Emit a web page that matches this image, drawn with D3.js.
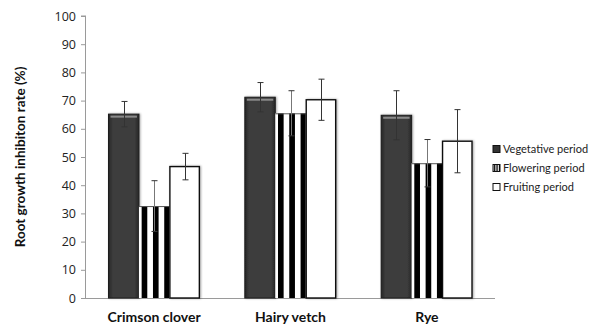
<!DOCTYPE html>
<html>
<head>
<meta charset="utf-8">
<script src="https://cdn.jsdelivr.net/npm/d3@7"></script>
<style>
  body { margin: 0; background: #fff; }
  svg { display: block; font-family: Lato, "Open Sans", sans-serif; }
</style>
</head>
<body>
<svg id="chart" width="595" height="329"></svg>
<script>
// ---------- data ----------
var crops = ["Crimson clover", "Hairy vetch", "Rye"];
var periods = ["Vegetative period", "Flowering period", "Fruiting period"];
var vegetative = [65.2, 71.2, 64.8];
var flowering = [32.6, 65.5, 47.8];
var fruiting = [46.6, 70.3, 55.6];
var vegetativeErr = [4.5, 5.2, 8.7];
var floweringErr = [9.0, 8.0, 8.4];
var fruitingErr = [4.7, 7.3, 11.2];
var yTicks = [0, 10, 20, 30, 40, 50, 60, 70, 80, 90, 100];

var seriesVals = [vegetative, flowering, fruiting];
var seriesErr = [vegetativeErr, floweringErr, fruitingErr];

var svg = d3.select("#chart");
var margin = {left: 86, right: 100, top: 16, bottom: 31};
var W = 595, H = 329;

var x0 = d3.scaleBand()
  .domain(crops)
  .range([margin.left, W - margin.right])
  .paddingInner(0.33)
  .paddingOuter(0.165);
var x1 = d3.scaleBand()
  .domain(periods)
  .range([0, x0.bandwidth()]);
var y = d3.scaleLinear()
  .domain([0, 100])
  .range([H - margin.bottom, margin.top]);

// ---------- defs ----------
var defs = svg.append("defs");
var grad = defs.append("linearGradient").attr("id", "vegGrad")
  .attr("x1", 0).attr("x2", 1).attr("y1", 0).attr("y2", 0);
grad.append("stop").attr("offset", "0%").attr("stop-color", "#262626");
grad.append("stop").attr("offset", "15%").attr("stop-color", "#3e3e3e");
grad.append("stop").attr("offset", "85%").attr("stop-color", "#3e3e3e");
grad.append("stop").attr("offset", "100%").attr("stop-color", "#262626");

var shadow = defs.append("filter").attr("id", "shadow")
  .attr("x", "-20%").attr("y", "-5%").attr("width", "140%").attr("height", "110%");
shadow.append("feDropShadow").attr("dx", 1).attr("dy", 0).attr("stdDeviation", 0.8)
  .attr("flood-color", "#000").attr("flood-opacity", 0.35);

var stripeW = 11.3;
crops.forEach(function (c, i) {
  var bx = x0(c) + x1(periods[1]);
  var p = defs.append("pattern").attr("id", "stripe" + i)
    .attr("patternUnits", "userSpaceOnUse")
    .attr("width", stripeW).attr("height", 10)
    .attr("x", bx + 2.7);
  p.append("rect").attr("width", stripeW).attr("height", 10).attr("fill", "#fff");
  p.append("rect").attr("width", stripeW / 2).attr("height", 10).attr("fill", "#000");
});
// legend stripe
var lp = defs.append("pattern").attr("id", "stripeLegend")
  .attr("patternUnits", "userSpaceOnUse").attr("width", 2.6).attr("height", 10).attr("x", 493);
lp.append("rect").attr("width", 2.6).attr("height", 10).attr("fill", "#fff");
lp.append("rect").attr("x", 0.8).attr("width", 1.4).attr("height", 10).attr("fill", "#000");

// ---------- axes ----------
var yAxis = d3.axisLeft(y).tickValues(yTicks).tickSize(5).tickPadding(5);
var gy = svg.append("g").attr("transform", "translate(" + margin.left + ",0)").call(yAxis);
gy.select(".domain").attr("stroke", "#9a9a9a").attr("d", "M-0.5," + y(0) + "V" + y(100) + "M-5," + y(100) + "H0");
gy.selectAll(".tick line").attr("stroke", "#9a9a9a");
gy.selectAll(".tick text").attr("font-size", "12.5px").attr("fill", "#222")
  .attr("font-family", "'Open Sans', sans-serif");

svg.append("line")
  .attr("x1", margin.left).attr("x2", W - margin.right)
  .attr("y1", y(0) + 0.5).attr("y2", y(0) + 0.5)
  .attr("stroke", "#9a9a9a");

svg.append("text")
  .attr("transform", "translate(25," + ((y(0) + y(100)) / 2) + ") rotate(-90)")
  .attr("text-anchor", "middle")
  .attr("font-size", "13.5px").attr("font-weight", "bold").attr("fill", "#111")
  .text("Root growth inhibiton rate (%)");

// category labels
svg.selectAll(".cat").data(crops).enter().append("text")
  .attr("x", function (d) { return x0(d) + x0.bandwidth() / 2; })
  .attr("y", 322)
  .attr("text-anchor", "middle")
  .attr("font-size", "14px").attr("font-weight", "bold").attr("fill", "#111")
  .text(function (d) { return d; });

// ---------- bars ----------
var bars = [];
crops.forEach(function (c, i) {
  periods.forEach(function (p, j) {
    bars.push({crop: c, ci: i, period: p, pj: j, v: seriesVals[j][i], e: seriesErr[j][i]});
  });
});

var g = svg.append("g");
bars.forEach(function (b) {
  var bx = x0(b.crop) + x1(b.period);
  var bw = x1.bandwidth();
  if (b.pj === 0) {
    g.append("rect").attr("x", bx).attr("y", y(b.v)).attr("width", bw).attr("height", y(0) - y(b.v))
      .attr("fill", "url(#vegGrad)").attr("stroke", "#1e1e1e").attr("stroke-width", 1)
      .attr("filter", "url(#shadow)");
    g.append("rect").attr("x", bx + 2).attr("y", y(b.v) + 1.5).attr("width", bw - 4).attr("height", 2)
      .attr("fill", "#8a8a8a");
  } else if (b.pj === 1) {
    g.append("rect").attr("x", bx).attr("y", y(b.v)).attr("width", bw).attr("height", y(0) - y(b.v))
      .attr("fill", "url(#stripe" + b.ci + ")");
    g.append("line").attr("x1", bx).attr("x2", bx + bw).attr("y1", y(b.v) + 0.5).attr("y2", y(b.v) + 0.5)
      .attr("stroke", "#555").attr("stroke-width", 1);
  } else {
    g.append("rect").attr("x", bx + 0.5).attr("y", y(b.v)).attr("width", bw - 1).attr("height", y(0) - y(b.v))
      .attr("fill", "#fff").attr("stroke", "#111").attr("stroke-width", 1.4)
      .attr("filter", "url(#shadow)");
  }
});

// error bars
var eg = svg.append("g").attr("stroke", "#333").attr("stroke-width", 1);
bars.forEach(function (b) {
  var cx = Math.round(x0(b.crop) + x1(b.period) + x1.bandwidth() / 2) + 0.5;
  var top = y(b.v + b.e), bot = y(b.v - b.e);
  eg.append("line").attr("x1", cx).attr("x2", cx).attr("y1", top).attr("y2", bot)
    .attr("stroke", b.pj === 1 ? "#777" : "#333");
  eg.append("line").attr("x1", cx - 3).attr("x2", cx + 3).attr("y1", top).attr("y2", top);
  eg.append("line").attr("x1", cx - 3).attr("x2", cx + 3).attr("y1", bot).attr("y2", bot);
});

// ---------- legend ----------
var legY = [149, 168, 187];
var fills = ["#333", "url(#stripeLegend)", "#fff"];
var leg = svg.append("g");
periods.forEach(function (p, j) {
  leg.append("rect").attr("x", 493).attr("y", legY[j] - 3.5).attr("width", 7).attr("height", 7)
    .attr("fill", fills[j]).attr("stroke", "#111").attr("stroke-width", 1);
  leg.append("text").attr("x", 503).attr("y", legY[j]).attr("dy", "0.35em")
    .attr("font-size", "11px").attr("fill", "#222").text(p);
});
</script>
</body>
</html>
